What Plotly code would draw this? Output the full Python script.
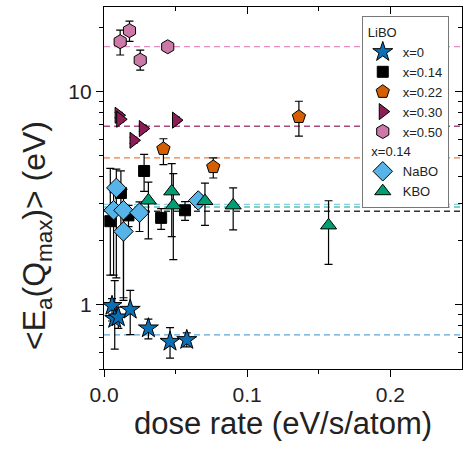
import plotly.graph_objects as go

# ---- data ----
star_x = [0.0056, 0.0075, 0.0100, 0.0183, 0.0310, 0.0461, 0.0578]
star_y = [0.99, 0.86, 0.875, 0.95, 0.777, 0.672, 0.685]
star_ep = [0.08, 0.44, 0.10, 0.22, 0.08, 0.11, 0.054]
star_em = [0.15, 0.24, 0.10, 0.225, 0.085, 0.11, 0.05]

sq_x = [0.0044, 0.0118, 0.0171, 0.0280, 0.0399, 0.0566]
sq_y = [2.47, 3.35, 2.63, 4.25, 2.56, 2.78]
sq_ep = [1.9, 0.9, 0.3, 0.84, 0.27, 0.27]
sq_em = [1.09, 1.2, 0.3, 0.84, 0.30, 0.29]

pent_x = [0.0415, 0.0763, 0.1361]
pent_y = [5.40, 4.44, 7.63]
pent_ep = [0.62, 0.46, 1.40]
pent_em = [0.85, 0.50, 1.44]

tri_x = [0.0102, 0.0113, 0.0271, 0.0206, 0.0503]
tri_y = [7.76, 7.43, 6.72, 5.92, 7.36]
tri_ep = [0.25, 0.2, 0.25, 0.2, 0.25]
tri_em = [0.2, 0.2, 0.2, 0.2, 0.2]

hex_x = [0.0178, 0.0113, 0.0253, 0.0445]
hex_y = [19.36, 17.18, 14.08, 16.27]
hex_ep = [2.1, 2.3, 1.6, 0.4]
hex_em = [2.1, 2.3, 1.44, 0.4]

na_x = [0.0086, 0.0067, 0.0136, 0.0136, 0.0248, 0.0658]
na_y = [3.54, 2.78, 2.78, 2.21, 2.71, 3.09]
na_ep = [0.8, 0.6, 0.7, 0.5, 0.33, 0.2]
na_em = [2.2, 1.4, 1.7, 1.16, 0.5, 0.2]

k_x = [0.0310, 0.0473, 0.0484, 0.0705, 0.0902, 0.1568]
k_y = [3.09, 3.41, 2.93, 3.07, 2.93, 2.36]
k_ep = [0.68, 1.19, 1.2, 0.66, 0.61, 0.72]
k_em = [1.05, 1.32, 1.30, 0.71, 0.68, 0.81]

# reference (dashed) levels
ref_levels = [16.3, 6.89, 4.90, 2.96, 2.88, 2.75, 0.723]
ref_colors = ["#e58cc4", "#a8487e", "#ee7d3b", "#86cdf2", "#5cc3a2", "#333333", "#5aa6dc"]
x_span = [0.0, 0.25]

x_ticks = [0.0, 0.1, 0.2]
x_minor = [0.05, 0.15]
y_ticks = [1, 10]
y_minor = [0.5, 0.6, 0.7, 0.8, 0.9, 2, 3, 4, 5, 6, 7, 8, 9, 20]

FONT = "Liberation Sans, Arial, sans-serif"

fig = go.Figure()

for lv, col in zip(ref_levels, ref_colors):
    fig.add_trace(go.Scatter(x=x_span, y=[lv, lv], mode="lines",
                             line=dict(color=col, width=1.3, dash="6px,4px"),
                             showlegend=False, hoverinfo="skip"))

def add_series(x, y, ep, em, name, symbol, color, size, group, gtitle):
    fig.add_trace(go.Scatter(
        x=x, y=y, mode="markers", name=name,
        marker=dict(symbol=symbol, color=color, size=size,
                    line=dict(color="black", width=1)),
        error_y=dict(type="data", symmetric=False, array=ep, arrayminus=em,
                     color="black", thickness=1.2, width=4),
        legendgroup=group, legendgrouptitle_text=gtitle,
    ))

add_series(star_x, star_y, star_ep, star_em, "x=0", "star", "#0a6fb5", 15, "LiBO", "LiBO")
add_series(sq_x, sq_y, sq_ep, sq_em, "x=0.14", "square", "#000000", 11, "LiBO", "LiBO")
add_series(pent_x, pent_y, pent_ep, pent_em, "x=0.22", "pentagon", "#d55e00", 14, "LiBO", "LiBO")
add_series(tri_x, tri_y, tri_ep, tri_em, "x=0.30", "triangle-right", "#8b1f55", 14, "LiBO", "LiBO")
add_series(hex_x, hex_y, hex_ep, hex_em, "x=0.50", "hexagon", "#cc79a7", 14, "LiBO", "LiBO")
add_series(na_x, na_y, na_ep, na_em, "NaBO", "diamond", "#56b4e9", 15, "alk", " x=0.14")
add_series(k_x, k_y, k_ep, k_em, "KBO", "triangle-up", "#009e73", 14, "alk", " x=0.14")

# dummy traces to activate mirror axes
fig.add_trace(go.Scatter(x=[None], y=[None], xaxis="x2", yaxis="y", showlegend=False, hoverinfo="skip"))
fig.add_trace(go.Scatter(x=[None], y=[None], xaxis="x", yaxis="y2", showlegend=False, hoverinfo="skip"))

axis_common = dict(showgrid=False, zeroline=False, linecolor="black", linewidth=1.2,
                   tickcolor="black", tickwidth=1.2,
                   tickfont=dict(family=FONT, size=21, color="#222"))

fig.update_layout(
    width=464, height=451,
    margin=dict(l=104, r=2, t=7, b=82),
    paper_bgcolor="white", plot_bgcolor="white",
    font=dict(family=FONT, color="#222"),
    xaxis=dict(range=x_span, tickvals=x_ticks, tickformat=".1f", ticks="outside", ticklen=7,
               showline=True, mirror=True,
               minor=dict(tickvals=x_minor, ticks="outside", ticklen=4, tickcolor="black", tickwidth=1.2),
               title=dict(text="dose rate (eV/s/atom)", font=dict(family=FONT, size=31, color="#222"), standoff=6),
               **axis_common),
    yaxis=dict(type="log", range=[-0.30103, 1.39794], tickvals=y_ticks, ticks="outside", ticklen=7,
               showline=True, mirror=True,
               minor=dict(tickvals=y_minor, ticks="outside", ticklen=4, tickcolor="black", tickwidth=1.2),
               **axis_common),
    xaxis2=dict(overlaying="x", side="top", anchor="y", range=x_span, tickvals=x_ticks,
                ticks="inside", ticklen=7, showticklabels=False, showline=False,
                minor=dict(tickvals=x_minor, ticks="inside", ticklen=4, tickcolor="black", tickwidth=1.2),
                **axis_common),
    yaxis2=dict(overlaying="y", side="right", anchor="x", type="log", range=[-0.30103, 1.39794],
                tickvals=y_ticks, ticks="inside", ticklen=7, showticklabels=False, showline=False,
                minor=dict(tickvals=y_minor, ticks="inside", ticklen=4, tickcolor="black", tickwidth=1.2),
                **axis_common),
    legend=dict(x=0.72, y=0.975, xanchor="left", yanchor="top",
                bgcolor="white", bordercolor="#777", borderwidth=1,
                font=dict(family=FONT, size=13, color="#222"),
                grouptitlefont=dict(family=FONT, size=13, color="#222"),
                tracegroupgap=0, traceorder="grouped", itemwidth=30),
    annotations=[dict(text="&lt;E<sub>a</sub>(Q<sub>max</sub>)&gt; (eV)", textangle=-90,
                      xref="paper", yref="paper", x=0, y=0.5, xshift=-68, yshift=-48,
                      xanchor="center", yanchor="middle", showarrow=False,
                      font=dict(family=FONT, size=32, color="#222"))],
)

fig.write_html("out.html")
